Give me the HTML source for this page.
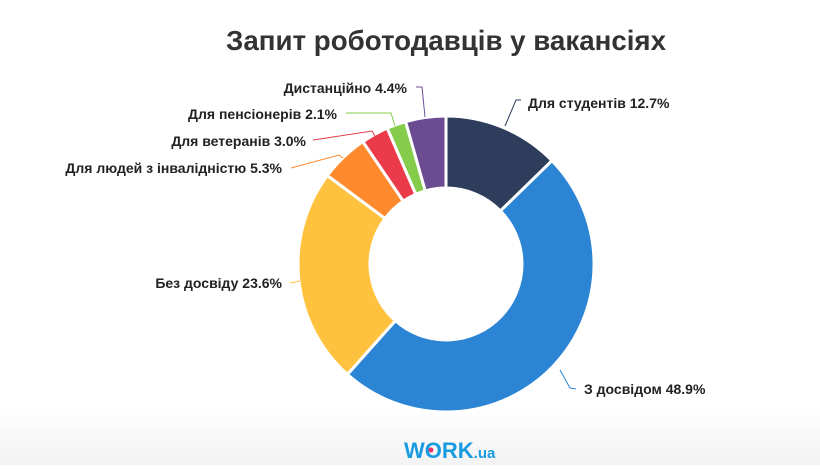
<!DOCTYPE html>
<html><head><meta charset="utf-8"><style>
html,body{margin:0;padding:0}
body{width:820px;height:465px;overflow:hidden;background:linear-gradient(#fff 0,#fff 410px,#f3f3f3 465px);font-family:"Liberation Sans",sans-serif}
</style></head><body>
<svg width="820" height="465" xmlns="http://www.w3.org/2000/svg">
<text x="446" y="50" text-anchor="middle" font-size="28" font-weight="bold" fill="#333" textLength="440" lengthAdjust="spacingAndGlyphs">Запит роботодавців у вакансіях</text>
<g id="ring" stroke="#fff" stroke-width="3" stroke-linejoin="round"></g>
<g fill="none" stroke-width="1">
<polyline points="416,87 422,87 425,117" stroke="#6b4c93"/>
<polyline points="346,113 391,113 395,126" stroke="#84cc4a"/>
<polyline points="313,140 372,131 376,138" stroke="#eb3b4a"/>
<polyline points="291,168 339,155 343,158" stroke="#ff8a2e"/>
<polyline points="521,100 516,100 505,126" stroke="#2e3d5c"/>
<polyline points="290,283 300,281" stroke="#ffc23f"/>
<polyline points="576,389 570,388 560,370" stroke="#2b84d4"/>
</g>
<g font-size="14" font-weight="bold" fill="#222">
<text x="407" y="93" text-anchor="end">Дистанційно 4.4%</text>
<text x="337" y="119" text-anchor="end">Для пенсіонерів 2.1%</text>
<text x="306" y="146" text-anchor="end">Для ветеранів 3.0%</text>
<text x="282" y="173" text-anchor="end">Для людей з інвалідністю 5.3%</text>
<text x="528" y="108">Для студентів 12.7%</text>
<text x="282" y="288" text-anchor="end">Без досвіду 23.6%</text>
<text x="584" y="394">З досвідом 48.9%</text>
</g>
<text x="404" y="458" font-size="22" font-weight="bold" fill="#1a9be0">WORK<tspan font-size="15">.ua</tspan></text>
<circle cx="431" cy="450" r="2.5" fill="#e8336b"/>
</svg>
<script>
var d=[[12.7,"#2e3d5c"],[48.9,"#2b84d4"],[23.6,"#ffc23f"],[5.3,"#ff8a2e"],[3.0,"#eb3b4a"],[2.1,"#84cc4a"],[4.4,"#6b4c93"]];
var cx=446,cy=264,R=148,r=76,a=0,g=document.getElementById("ring"),s="";
function p(rad,ang){ang=ang*Math.PI*2/100-Math.PI/2;return (cx+rad*Math.cos(ang)).toFixed(2)+","+(cy+rad*Math.sin(ang)).toFixed(2);}
d.forEach(function(x){var b=a+x[0],l=x[0]>50?1:0;
s+='<path fill="'+x[1]+'" d="M'+p(R,a)+' A'+R+','+R+' 0 '+l+' 1 '+p(R,b)+' L'+p(r,b)+' A'+r+','+r+' 0 '+l+' 0 '+p(r,a)+' Z"/>';a=b;});
g.innerHTML=s;
</script>
</body></html>
